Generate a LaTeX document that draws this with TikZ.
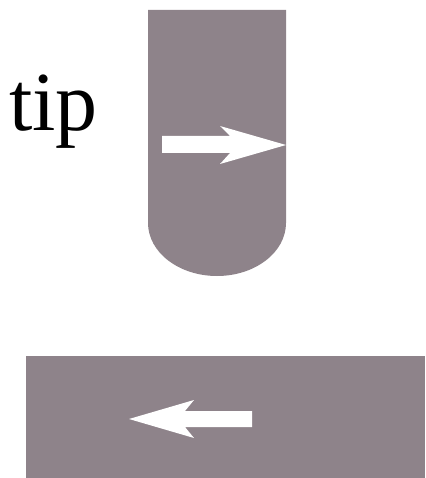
\documentclass[tikz,border=0pt]{standalone}
\usepackage{fontspec}
\setmainfont{Liberation Serif}
\usepackage{tikz}
\definecolor{padgray}{HTML}{8E838A}
\begin{document}
\begin{tikzpicture}[x=1pt,y=-1pt,
    body/.style={fill=padgray,draw=none},
    flow/.style={fill=white,draw=none},
    lbl/.style={font=\fontsize{84}{90}\selectfont,inner sep=0pt,anchor=base west}]
  \useasboundingbox (0,0) rectangle (425,478);
  % probe tip with rounded end
  \fill[body] (148,10) -- (148,223) arc[start angle=180,end angle=0,x radius=69,y radius=53]
              -- (286,10) -- cycle;
  % substrate strip
  \fill[body] (26,356) rectangle (425,478);
  % motion arrows
  \fill[flow] (162,136) -- (230,136) -- (220,126) -- (286,145) -- (220,164)
              -- (230,153) -- (162,153) -- cycle;
  \fill[flow] (252,411) -- (185,411) -- (194,400) -- (129,419) -- (194,438)
              -- (185,427) -- (252,427) -- cycle;
  \node[lbl] (tiplbl) at (9,131) {tip};
\end{tikzpicture}
\end{document}
